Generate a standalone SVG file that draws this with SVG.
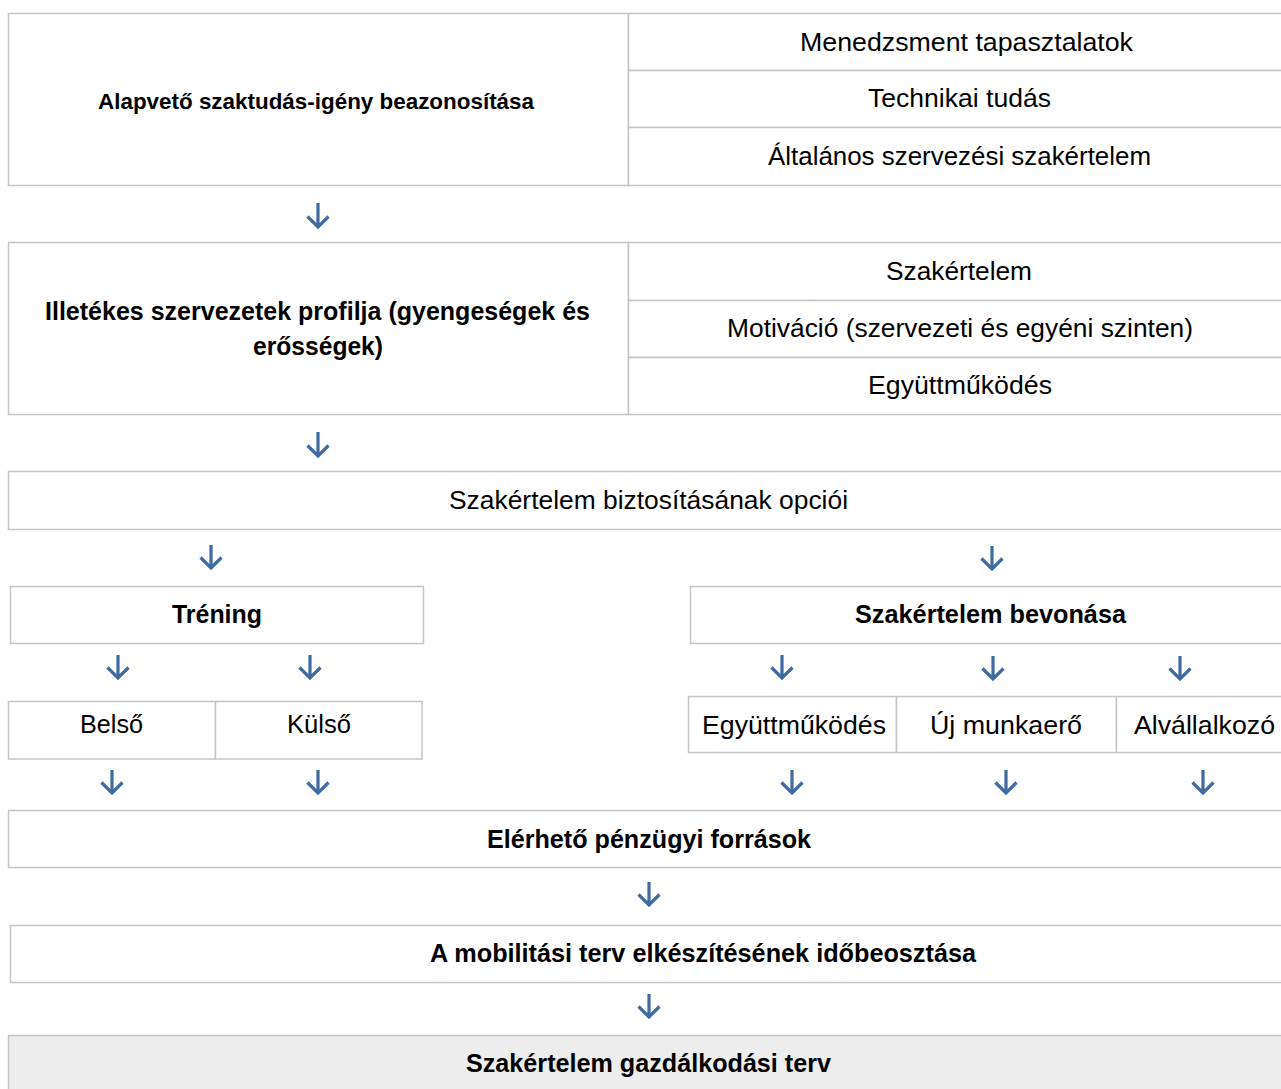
<svg xmlns="http://www.w3.org/2000/svg" width="1281" height="1089" viewBox="0 0 1281 1089">
<defs>
<style>
.cell{fill:#ffffff;stroke:#c4c4c4;stroke-width:1.5}
.grey{fill:#ededed;stroke:#c4c4c4;stroke-width:1.5}
.t{font-family:"Liberation Sans",Arial,sans-serif;font-size:26px;fill:#000}
.b{font-family:"Liberation Sans",Arial,sans-serif;font-size:25px;font-weight:bold;fill:#000}
.arr{fill:none;stroke:#3f6ba5;stroke-width:3.2;stroke-linecap:butt;stroke-linejoin:miter}
</style>
</defs>
<rect x="0" y="0" width="1281" height="1089" fill="#ffffff"/>

<g id="node-alapveto">
<rect class="cell" x="8.5" y="13.5" width="620" height="172"/>
<text class="b" style="font-size:22px" x="98" y="109" textLength="436" lengthAdjust="spacingAndGlyphs">Alapvető szaktudás-igény beazonosítása</text>
</g>
<g id="node-menedzsment">
<rect class="cell" x="628.5" y="13.5" width="670" height="57"/>
<text class="t" x="800" y="51" textLength="333" lengthAdjust="spacingAndGlyphs">Menedzsment tapasztalatok</text>
</g>
<g id="node-technikai">
<rect class="cell" x="628.5" y="70.5" width="670" height="57"/>
<text class="t" x="868" y="107" textLength="183" lengthAdjust="spacingAndGlyphs">Technikai tudás</text>
</g>
<g id="node-altalanos">
<rect class="cell" x="628.5" y="127.5" width="670" height="58"/>
<text class="t" x="768" y="165" textLength="383" lengthAdjust="spacingAndGlyphs">Általános szervezési szakértelem</text>
</g>

<g id="node-illetekes">
<rect class="cell" x="8.5" y="242.5" width="620" height="172"/>
<text class="b" x="45" y="320" textLength="545" lengthAdjust="spacingAndGlyphs">Illetékes szervezetek profilja (gyengeségek és</text>
<text class="b" x="253" y="355" textLength="130" lengthAdjust="spacingAndGlyphs">erősségek)</text>
</g>
<g id="node-szakertelem">
<rect class="cell" x="628.5" y="242.5" width="670" height="58"/>
<text class="t" x="886" y="280" textLength="146" lengthAdjust="spacingAndGlyphs">Szakértelem</text>
</g>
<g id="node-motivacio">
<rect class="cell" x="628.5" y="300.5" width="670" height="57"/>
<text class="t" x="727" y="337" textLength="466" lengthAdjust="spacingAndGlyphs">Motiváció (szervezeti és egyéni szinten)</text>
</g>
<g id="node-egyuttmukodes1">
<rect class="cell" x="628.5" y="357.5" width="670" height="57"/>
<text class="t" x="868" y="394" textLength="184" lengthAdjust="spacingAndGlyphs">Együttműködés</text>
</g>

<g id="node-opciok">
<rect class="cell" x="8.5" y="471.5" width="1290" height="58"/>
<text class="t" x="449" y="509" textLength="399" lengthAdjust="spacingAndGlyphs">Szakértelem biztosításának opciói</text>
</g>

<g id="node-trening">
<rect class="cell" x="10.5" y="586.5" width="413" height="57"/>
<text class="b" x="172" y="623" textLength="90" lengthAdjust="spacingAndGlyphs">Tréning</text>
</g>
<g id="node-bevonasa">
<rect class="cell" x="690.5" y="586.5" width="608" height="57"/>
<text class="b" x="855" y="623" textLength="271" lengthAdjust="spacingAndGlyphs">Szakértelem bevonása</text>
</g>

<g id="node-belso">
<rect class="cell" x="8.5" y="701.5" width="207" height="57.5"/>
<text class="t" x="80" y="733" textLength="63" lengthAdjust="spacingAndGlyphs">Belső</text>
</g>
<g id="node-kulso">
<rect class="cell" x="215.5" y="701.5" width="206.5" height="57.5"/>
<text class="t" x="287" y="733" textLength="64" lengthAdjust="spacingAndGlyphs">Külső</text>
</g>

<g id="node-egyuttmukodes2">
<rect class="cell" x="688.5" y="696.5" width="208" height="56"/>
<text class="t" x="702" y="734" textLength="184" lengthAdjust="spacingAndGlyphs">Együttműködés</text>
</g>
<g id="node-uj-munkaero">
<rect class="cell" x="896.5" y="696.5" width="220" height="56"/>
<text class="t" x="930" y="734" textLength="152" lengthAdjust="spacingAndGlyphs">Új munkaerő</text>
</g>
<g id="node-alvallalkozo">
<rect class="cell" x="1116.5" y="696.5" width="182" height="56"/>
<text class="t" x="1134" y="734" textLength="141" lengthAdjust="spacingAndGlyphs">Alvállalkozó</text>
</g>

<g id="node-penzugyi">
<rect class="cell" x="8.5" y="810.5" width="1290" height="57"/>
<text class="b" x="487" y="848" textLength="324" lengthAdjust="spacingAndGlyphs">Elérhető pénzügyi források</text>
</g>
<g id="node-mobilitasi">
<rect class="cell" x="10.5" y="925.5" width="1288" height="57"/>
<text class="b" x="430" y="962" textLength="546" lengthAdjust="spacingAndGlyphs">A mobilitási terv elkészítésének időbeosztása</text>
</g>
<g id="node-gazdalkodasi">
<rect class="grey" x="8.5" y="1035.5" width="1290" height="60"/>
<text class="b" x="466" y="1072" textLength="365" lengthAdjust="spacingAndGlyphs">Szakértelem gazdálkodási terv</text>
</g>

<g id="connectors">
<path class="arr" d="M318 203V227M307.5 216.5L318 227L328.5 216.5"/>
<path class="arr" d="M318 432V456M307.5 445.5L318 456L328.5 445.5"/>
<path class="arr" d="M211 545V568M200.5 557.5L211 568L221.5 557.5"/>
<path class="arr" d="M992 546V569M981.5 558.5L992 569L1002.5 558.5"/>
<path class="arr" d="M118 655V678M107.5 667.5L118 678L128.5 667.5"/>
<path class="arr" d="M310 655V678M299.5 667.5L310 678L320.5 667.5"/>
<path class="arr" d="M782 655V678M771.5 667.5L782 678L792.5 667.5"/>
<path class="arr" d="M993 656V679M982.5 668.5L993 679L1003.5 668.5"/>
<path class="arr" d="M1180 656V679M1169.5 668.5L1180 679L1190.5 668.5"/>
<path class="arr" d="M112 770V793M101.5 782.5L112 793L122.5 782.5"/>
<path class="arr" d="M318 770V793M307.5 782.5L318 793L328.5 782.5"/>
<path class="arr" d="M792 770V793M781.5 782.5L792 793L802.5 782.5"/>
<path class="arr" d="M1006 770V793M995.5 782.5L1006 793L1016.5 782.5"/>
<path class="arr" d="M1203 770V793M1192.5 782.5L1203 793L1213.5 782.5"/>
<path class="arr" d="M649 882V905M638.5 894.5L649 905L659.5 894.5"/>
<path class="arr" d="M649 994V1017M638.5 1006.5L649 1017L659.5 1006.5"/>
</g>
</svg>
